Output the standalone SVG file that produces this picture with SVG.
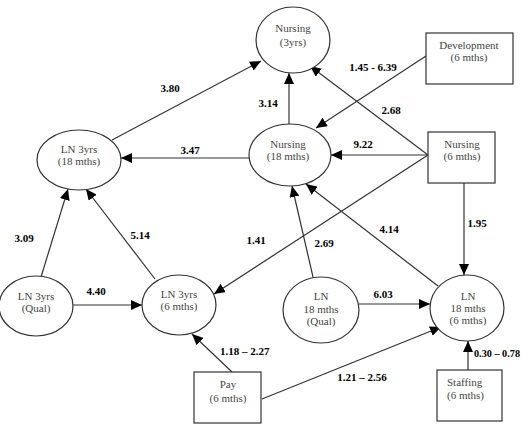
<svg xmlns="http://www.w3.org/2000/svg" width="522" height="432" viewBox="0 0 522 432">
<defs>
<marker id="ah" markerUnits="userSpaceOnUse" markerWidth="11" markerHeight="10" refX="11" refY="5" orient="auto">
<path d="M0,0 L11,5 L0,10 z" fill="#000"/>
</marker>
<style>
.n{fill:#fff;stroke:#333;stroke-width:1.2}
.t{font-family:"Liberation Serif","Times New Roman",serif;font-size:11px;fill:#444;text-anchor:middle}
.l{font-family:"Liberation Serif","Times New Roman",serif;font-size:11px;font-weight:bold;fill:#000;text-anchor:middle}
.e{stroke:#333;stroke-width:1.2;fill:none;marker-end:url(#ah)}
</style>
</defs>
<rect width="522" height="432" fill="#fff"/>
<g id="connectors">
<line class="e" x1="112" y1="140" x2="261" y2="61"/>
<line class="e" x1="249" y1="158" x2="121" y2="158"/>
<line class="e" x1="289" y1="124" x2="289" y2="73"/>
<line class="e" x1="426" y1="56" x2="316" y2="128"/>
<line class="e" x1="428" y1="155" x2="310" y2="66"/>
<line class="e" x1="428" y1="155" x2="331" y2="155"/>
<line class="e" x1="428" y1="155" x2="214" y2="294"/>
<line class="e" x1="464" y1="183" x2="464" y2="275"/>
<line class="e" x1="438" y1="286" x2="306" y2="184"/>
<line class="e" x1="313" y1="277" x2="292" y2="186"/>
<line class="e" x1="359" y1="304" x2="430" y2="304"/>
<line class="e" x1="262" y1="399" x2="441" y2="327"/>
<line class="e" x1="232" y1="372" x2="192" y2="334"/>
<line class="e" x1="468" y1="370" x2="468" y2="341"/>
<line class="e" x1="41" y1="277" x2="68" y2="189"/>
<line class="e" x1="155" y1="279" x2="86" y2="189"/>
<line class="e" x1="73" y1="305" x2="142" y2="305"/>
</g>
<g id="labels">
<text class="l" x="170" y="92">3.80</text>
<text class="l" x="190" y="154">3.47</text>
<text class="l" x="268" y="107">3.14</text>
<text class="l" x="373" y="71">1.45 - 6.39</text>
<text class="l" x="391" y="114">2.68</text>
<text class="l" x="363" y="148">9.22</text>
<text class="l" x="256" y="244">1.41</text>
<text class="l" x="477" y="227">1.95</text>
<text class="l" x="389" y="233">4.14</text>
<text class="l" x="324" y="247">2.69</text>
<text class="l" x="383" y="298">6.03</text>
<text class="l" x="362" y="381">1.21 – 2.56</text>
<text class="l" x="220" y="355" style="text-anchor:start">1.18 – 2.27</text>
<text class="l" x="474" y="357" style="text-anchor:start" textLength="46" lengthAdjust="spacingAndGlyphs">0.30 – 0.78</text>
<text class="l" x="24" y="242">3.09</text>
<text class="l" x="140" y="239">5.14</text>
<text class="l" x="96" y="295">4.40</text>
</g>
<g id="nursing-3yrs">
<ellipse class="n" cx="293" cy="40" rx="37" ry="33"/>
<text class="t" x="293" y="32">Nursing</text>
<text class="t" x="293" y="46">(3yrs)</text>
</g>
<g id="nursing-18mths">
<ellipse class="n" cx="290" cy="155" rx="41" ry="31"/>
<text class="t" x="288" y="148">Nursing</text>
<text class="t" x="288" y="160">(18 mths)</text>
</g>
<g id="ln3yrs-18mths">
<ellipse class="n" cx="79" cy="160" rx="42" ry="30"/>
<text class="t" x="79" y="153">LN 3yrs</text>
<text class="t" x="79" y="165">(18 mths)</text>
</g>
<g id="ln3yrs-qual">
<ellipse class="n" cx="36" cy="306" rx="37" ry="30"/>
<text class="t" x="36" y="300">LN 3yrs</text>
<text class="t" x="36" y="312">(Qual)</text>
</g>
<g id="ln3yrs-6mths">
<ellipse class="n" cx="179" cy="305" rx="37" ry="30"/>
<text class="t" x="179" y="298">LN 3yrs</text>
<text class="t" x="179" y="310">(6 mths)</text>
</g>
<g id="ln18-qual">
<ellipse class="n" cx="321" cy="310" rx="38" ry="33"/>
<text class="t" x="321" y="300">LN</text>
<text class="t" x="321" y="313">18 mths</text>
<text class="t" x="321" y="325">(Qual)</text>
</g>
<g id="ln18-6mths">
<ellipse class="n" cx="467" cy="308" rx="37" ry="33"/>
<text class="t" x="468" y="300">LN</text>
<text class="t" x="468" y="312">18 mths</text>
<text class="t" x="468" y="324">(6 mths)</text>
</g>
<g id="development">
<rect class="n" x="426" y="33" width="87" height="51"/>
<text class="t" x="469" y="49">Development</text>
<text class="t" x="469" y="61">(6 mths)</text>
</g>
<g id="nursing-6mths">
<rect class="n" x="428" y="132" width="67" height="51"/>
<text class="t" x="462" y="148">Nursing</text>
<text class="t" x="462" y="160">(6 mths)</text>
</g>
<g id="pay">
<rect class="n" x="194" y="372" width="67" height="51"/>
<text class="t" x="228" y="388">Pay</text>
<text class="t" x="228" y="402">(6 mths)</text>
</g>
<g id="staffing">
<rect class="n" x="437" y="370" width="65" height="51"/>
<text class="t" x="447" y="386" style="text-anchor:start">Staffing</text>
<text class="t" x="447" y="399" style="text-anchor:start">(6 mths)</text>
</g>
</svg>
